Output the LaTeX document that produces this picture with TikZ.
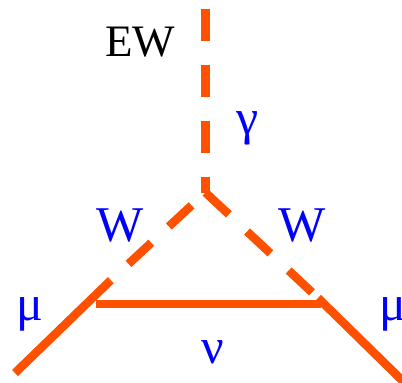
\documentclass[tikz,border=0pt]{standalone}
\usepackage{fontspec}
\setmainfont{Liberation Serif}
\definecolor{prop}{RGB}{255,80,0}
\definecolor{lbl}{RGB}{0,0,255}
\begin{document}
\begin{tikzpicture}[x=1pt,y=-1pt,
  line/.style={prop,line width=8.5pt},
  dline/.style={line,dash pattern=on 32pt off 24pt},
  blbl/.style={lbl,font=\fontsize{50}{50}\selectfont,inner sep=0pt},
  glbl/.style={lbl,font=\fontsize{50}{50}\selectfont,inner sep=0pt}]
\useasboundingbox (0,0) rectangle (402,383);
\coordinate (top) at (205.5,9);
\coordinate (v) at (205.5,192.5);
\coordinate (a) at (110,281);
\coordinate (muL) at (15,373);
\coordinate (b) at (318,298);
\coordinate (muR) at (412,390);
\coordinate (nuL) at (96,304);
\coordinate (nuR) at (321,304);
\begin{scope}
\clip (0,0) rectangle (402,383);
\draw[dline] (top) -- (v);
\draw[line,dash pattern=on 31pt off 24pt,dash phase=36pt] (v) -- (a);
\draw[line,dash pattern=on 32pt off 25pt] (v) -- (b);
\draw[line] (muL) -- (a);
\draw[line] (b) -- (muR);
\draw[line] (nuL) -- (nuR);
\end{scope}
\node[inner sep=0pt,font=\fontsize{45}{45}\selectfont] (ew) at (140,42) {EW};
\node[glbl] (g) at (248,128) {γ};
\node[blbl] (wl) at (120,226) {W};
\node[blbl] (wr) at (302,226) {W};
\node[glbl] (ml) at (30,314) {μ};
\node[glbl] (mr) at (393,314) {μ};
\node[glbl] (nu) at (213,352) {ν};
\end{tikzpicture}
\end{document}
